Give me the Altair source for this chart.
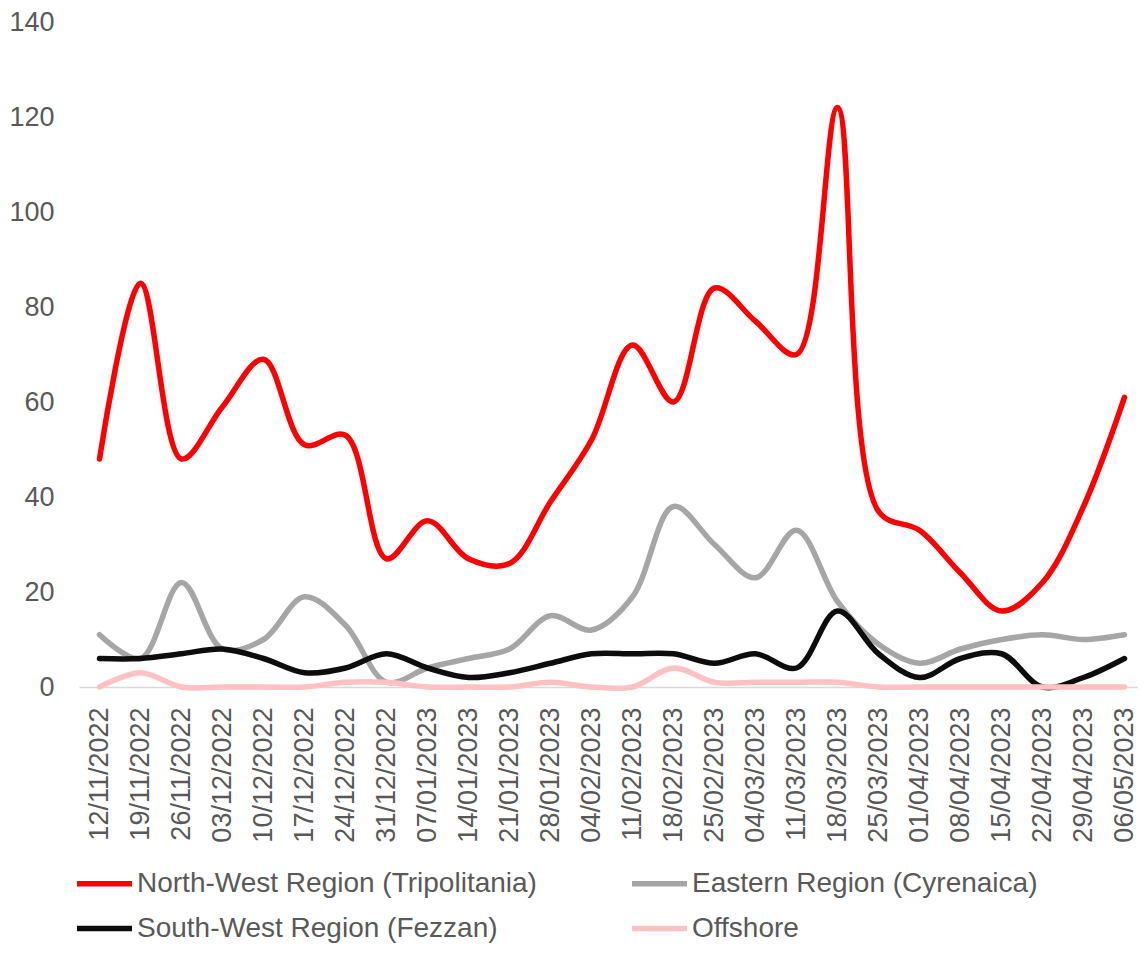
import altair as alt
import pandas as pd

dates = ["12/11/2022", "19/11/2022", "26/11/2022", "03/12/2022", "10/12/2022",
         "17/12/2022", "24/12/2022", "31/12/2022", "07/01/2023", "14/01/2023",
         "21/01/2023", "28/01/2023", "04/02/2023", "11/02/2023", "18/02/2023",
         "25/02/2023", "04/03/2023", "11/03/2023", "18/03/2023", "25/03/2023",
         "01/04/2023", "08/04/2023", "15/04/2023", "22/04/2023", "29/04/2023",
         "06/05/2023"]

north_west = [48, 85, 48, 59, 69, 51, 53, 27, 35, 27, 26, 39, 52, 72, 60,
              84, 77, 70, 122, 37, 33, 24, 16, 22, 38, 61]
eastern = [11, 6, 22, 8, 10, 19, 13, 1, 4, 6, 8, 15, 12, 19, 38,
           30, 23, 33, 18, 9, 5, 8, 10, 11, 10, 11]
south_west = [6, 6, 7, 8, 6, 3, 4, 7, 4, 2, 3, 5, 7, 7, 7,
              5, 7, 4, 16, 7, 2, 6, 7, 0, 2, 6]
offshore = [0, 3, 0, 0, 0, 0, 1, 1, 0, 0, 0, 1, 0, 0, 4,
            1, 1, 1, 1, 0, 0, 0, 0, 0, 0, 0]

series_names = ["North-West Region (Tripolitania)", "Eastern Region (Cyrenaica)",
                "South-West Region (Fezzan)", "Offshore"]
series_colors = ["#FF0000", "#A6A6A6", "#0D0D0D", "#FFC1C1"]
y_ticks = [0, 20, 40, 60, 80, 100, 120, 140]

rows = []
for name, vals in zip(series_names, [north_west, eastern, south_west, offshore]):
    for i, (d, v) in enumerate(zip(dates, vals)):
        rows.append({"date": d, "value": v, "series": name, "order": i})
df = pd.DataFrame(rows)

FONT = "Liberation Sans"
TXT = "#595959"

chart = alt.Chart(df).mark_line(
    interpolate="catmull-rom", strokeWidth=5.5, strokeCap="round"
).encode(
    x=alt.X("date:N", sort=dates,
            scale=alt.Scale(type="point", range=[0, 1066], padding=0.5),
            axis=alt.Axis(title=None, labelAngle=270, labelFontSize=27,
                          labelFont=FONT, labelColor=TXT, ticks=False,
                          labelPadding=20, domainColor="#D9D9D9",
                          domainWidth=1.5, grid=False, labelOverlap=False)),
    y=alt.Y("value:Q", scale=alt.Scale(domain=[0, 140], nice=False),
            axis=alt.Axis(title=None, values=y_ticks, labelFontSize=27,
                          labelFont=FONT, labelColor=TXT, ticks=False,
                          domain=False, grid=False, labelPadding=25)),
    color=alt.Color("series:N",
                    scale=alt.Scale(domain=series_names, range=series_colors),
                    legend=alt.Legend(title=None, orient="none", legendX=-5,
                                      legendY=831, columns=2,
                                      direction="horizontal",
                                      symbolType="stroke", symbolSize=3025,
                                      symbolStrokeWidth=5.5, labelFontSize=28,
                                      labelFont=FONT, labelColor=TXT,
                                      labelOffset=2, columnPadding=84,
                                      rowPadding=-15, labelLimit=600)),
    order=alt.Order("order:Q"),
).properties(
    width=1059, height=665,
    autosize=alt.AutoSizeParams(type="none"),
    padding={"left": 71, "top": 14, "right": 0, "bottom": 256},
).configure_view(stroke=None)

chart.save("out.html", embed_options={"renderer": "svg", "actions": False})
